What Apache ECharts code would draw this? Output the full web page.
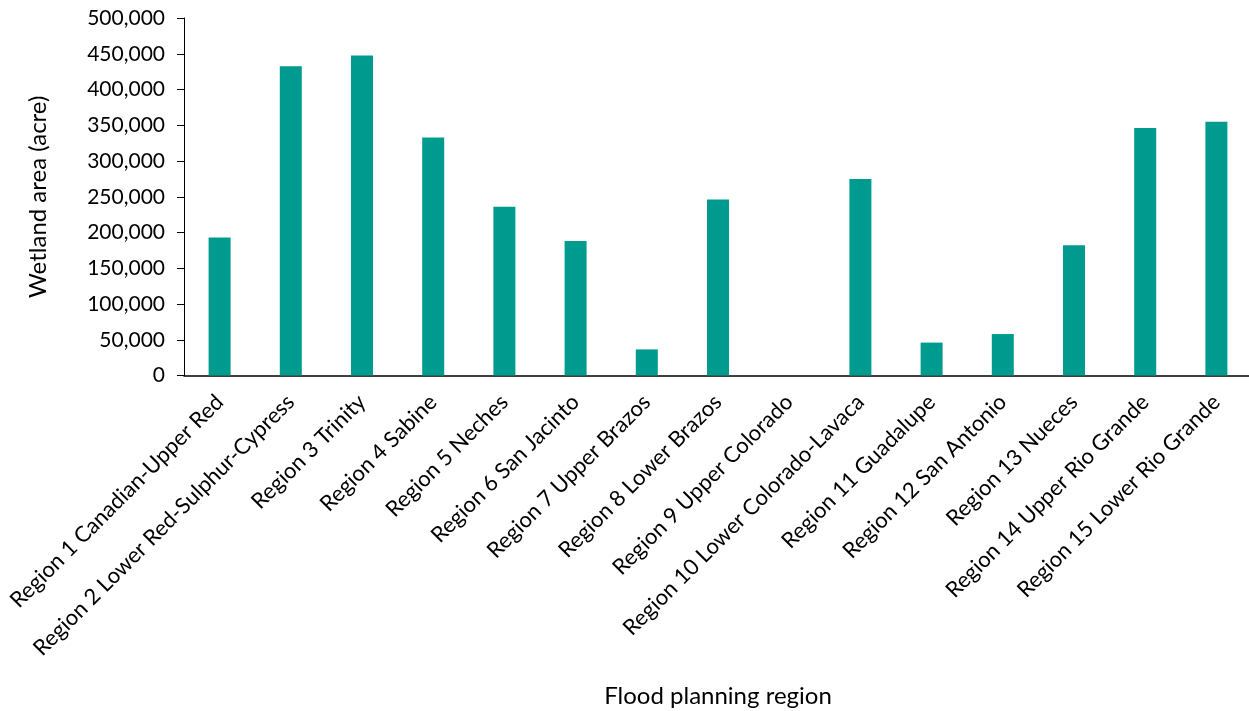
<!DOCTYPE html>
<html>
<head>
<meta charset="utf-8">
<script src="https://cdn.jsdelivr.net/npm/echarts@6/dist/echarts.min.js"></script>
<style>
  html, body { margin: 0; padding: 0; background: #fff; }
  #chart { width: 1249px; height: 711px; }
</style>
</head>
<body>
<div id="chart"></div>
<script>
// Wetland area per Texas flood planning region
const regions = [
  'Region 1 Canadian-Upper Red',
  'Region 2 Lower Red-Sulphur-Cypress',
  'Region 3 Trinity',
  'Region 4 Sabine',
  'Region 5 Neches',
  'Region 6 San Jacinto',
  'Region 7 Upper Brazos',
  'Region 8 Lower Brazos',
  'Region 9 Upper Colorado',
  'Region 10 Lower Colorado-Lavaca',
  'Region 11 Guadalupe',
  'Region 12 San Antonio',
  'Region 13 Nueces',
  'Region 14 Upper Rio Grande',
  'Region 15 Lower Rio Grande'
];
const wetlandAcres = [
  193000, 432500, 447500, 333000, 236000, 188000, 36500, 246000,
  0, 275000, 46000, 58000, 182000, 346000, 355000
];
const yTicks = { min: 0, max: 500000, step: 50000 };

const FONT = 'Lato, "Open Sans", sans-serif';
const chart = echarts.init(document.getElementById('chart'), null, { renderer: 'canvas' });

chart.setOption({
  animation: false,
  backgroundColor: '#ffffff',
  grid: {
    left: 184, top: 18, width: 1068, height: 357.5,
    containLabel: false,
    outerBoundsMode: 'none'
  },
  xAxis: {
    type: 'category',
    data: regions,
    name: 'Flood planning region',
    nameLocation: 'middle',
    nameGap: 309,
    nameTextStyle: { fontFamily: FONT, fontSize: 24, color: '#000' },
    axisLine: { show: true, lineStyle: { color: '#000', width: 1.5 } },
    axisTick: { show: false },
    axisLabel: {
      interval: 0,
      rotate: 45,
      margin: 23,
      fontFamily: FONT,
      fontSize: 22,
      color: '#000'
    },
    splitLine: { show: false }
  },
  yAxis: {
    type: 'value',
    min: yTicks.min,
    max: yTicks.max,
    interval: yTicks.step,
    name: 'Wetland area (acre)',
    nameLocation: 'middle',
    nameGap: 134,
    nameTextStyle: { fontFamily: FONT, fontSize: 24, color: '#000' },
    axisLine: { show: true, lineStyle: { color: '#000', width: 1 } },
    axisTick: { show: true, inside: false, length: 7, lineStyle: { color: '#000' } },
    axisLabel: {
      margin: 19,
      fontFamily: FONT,
      fontSize: 21,
      color: '#000',
      formatter: v => v.toLocaleString('en-US')
    },
    splitLine: { show: false }
  },
  series: [{
    type: 'bar',
    data: wetlandAcres,
    barWidth: 22,
    itemStyle: { color: '#009B8F' }
  }]
});
</script>
</body>
</html>
